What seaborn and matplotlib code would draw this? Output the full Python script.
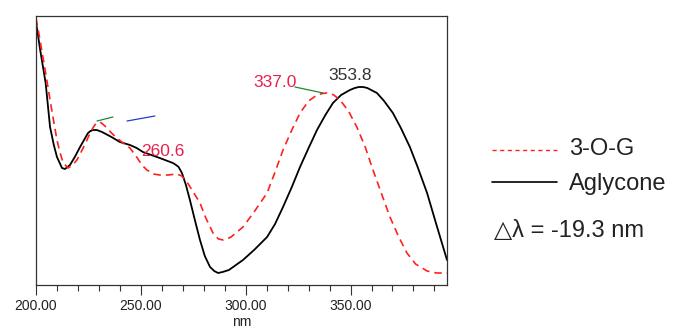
import numpy as np
import pandas as pd
import matplotlib
matplotlib.use("Agg")
import matplotlib.pyplot as plt
from matplotlib.lines import Line2D
from matplotlib.ticker import MultipleLocator, FormatStrFormatter
import seaborn as sns

# Aglycone spectrum (wavelength nm, absorbance a.u.)
agl_wl = [200.0, 202.0, 204.6, 206.7, 208.5, 210.0, 212.4, 213.8, 216.2, 218.5, 221.0, 224.8,
          226.0, 227.2, 229.0, 231.5, 236.0, 240.0, 244.8, 248.0, 251.0, 255.0, 259.0, 265.3,
          266.8, 268.0, 269.6, 271.5, 273.4, 276.0, 278.2, 280.5, 283.0, 285.0, 286.8, 289.0,
          292.0, 298.7, 304.0, 310.2, 314.0, 317.8, 322.0, 325.9, 330.0, 334.0, 338.0, 341.6,
          345.5, 349.7, 352.0, 354.0, 356.0, 358.0, 362.6, 366.0, 370.2, 374.0, 378.3, 382.0,
          386.5, 391.0, 396.0]
agl_abs = [2.63, 2.35, 2.02, 1.58, 1.40, 1.28, 1.17, 1.16, 1.20, 1.28, 1.38, 1.52,
           1.54, 1.55, 1.55, 1.53, 1.48, 1.43, 1.40, 1.37, 1.33, 1.30, 1.27, 1.22,
           1.20, 1.18, 1.12, 1.00, 0.85, 0.63, 0.45, 0.29, 0.18, 0.14, 0.12, 0.13,
           0.15, 0.25, 0.35, 0.48, 0.61, 0.78, 0.98, 1.18, 1.37, 1.55, 1.70, 1.82,
           1.90, 1.95, 1.97, 1.98, 1.98, 1.97, 1.92, 1.84, 1.72, 1.57, 1.38, 1.18,
           0.92, 0.60, 0.25]

# 3-O-G spectrum
gly_wl = [200.0, 201.5, 203.3, 205.0, 206.7, 208.5, 210.0, 211.5, 213.0, 215.3, 217.5, 219.5,
          222.0, 224.3, 226.0, 228.0, 229.3, 230.5, 231.8, 233.9, 236.0, 238.6, 241.5, 244.8,
          248.0, 250.5, 252.9, 256.0, 259.0, 263.0, 267.2, 269.5, 272.0, 275.0, 278.2, 281.0,
          284.4, 287.0, 288.2, 289.2, 290.5, 293.0, 298.7, 304.0, 310.2, 314.0, 317.8, 322.0,
          325.9, 330.0, 334.0, 336.5, 338.8, 340.5, 342.0, 345.0, 349.0, 353.0, 357.0, 360.7,
          365.0, 368.8, 373.0, 376.9, 381.0, 386.5, 391.0, 396.0]
gly_abs = [2.67, 2.50, 2.28, 2.07, 1.85, 1.63, 1.45, 1.32, 1.22, 1.17, 1.20, 1.25,
           1.35, 1.45, 1.53, 1.60, 1.625, 1.63, 1.61, 1.57, 1.52, 1.47, 1.42, 1.37,
           1.28, 1.20, 1.15, 1.11, 1.10, 1.10, 1.11, 1.09, 1.03, 0.93, 0.82, 0.67,
           0.52, 0.46, 0.455, 0.45, 0.455, 0.48, 0.58, 0.73, 0.92, 1.13, 1.35, 1.55,
           1.72, 1.84, 1.90, 1.915, 1.92, 1.915, 1.90, 1.85, 1.74, 1.58, 1.38, 1.15,
           0.90, 0.68, 0.48, 0.32, 0.21, 0.14, 0.12, 0.12]

series_names = ["3-O-G", "Aglycone"]
peak_labels = ["337.0", "353.8", "260.6"]
delta_text = "\u25b3\u03bb = -19.3 nm"

df = pd.concat([
    pd.DataFrame({"nm": gly_wl, "A": gly_abs, "s": series_names[0]}),
    pd.DataFrame({"nm": agl_wl, "A": agl_abs, "s": series_names[1]}),
])

sns.set_theme(style="white")
plt.rcParams["font.family"] = ["Liberation Sans", "DejaVu Sans"]

fig = plt.figure(figsize=(6.87, 3.35), dpi=100)
ax = fig.add_axes([36/687, 50/335, 411/687, 269/335])

sns.lineplot(data=df[df.s == "Aglycone"], x="nm", y="A", color="black", lw=1.3,
             ax=ax, sort=False, estimator=None)
sns.lineplot(data=df[df.s == "3-O-G"], x="nm", y="A", color="#ff2020", lw=1.2,
             ax=ax, sort=False, estimator=None, dashes=False)
ax.lines[-1].set_dashes([4.5, 3])

ax.set_xlim(200, 396)
ax.set_ylim(0, 2.69)
ax.set_yticks([])
ax.set_ylabel("")
ax.set_xlabel("nm", fontsize=10, color="#222222", labelpad=1.5)
ax.xaxis.set_major_locator(MultipleLocator(50))
ax.xaxis.set_minor_locator(MultipleLocator(10))
ax.xaxis.set_major_formatter(FormatStrFormatter("%.2f"))
ax.tick_params(axis="x", which="major", bottom=True, length=7, width=0.8, color="#333333",
               labelsize=10, labelcolor="#222222", pad=3)
ax.tick_params(axis="x", which="minor", bottom=True, length=4, width=0.8, color="#333333")
for sp in ax.spines.values():
    sp.set_color("#333333")
    sp.set_linewidth(0.9)
if ax.get_legend():
    ax.get_legend().remove()

# annotations
ax.text(349.7, 2.10, peak_labels[1], color="#333333", fontsize=12.5, ha="center", va="center")
ax.text(314.0, 2.02, peak_labels[0], color="#e8204f", fontsize=12.5, ha="center", va="center")
ax.text(260.6, 1.33, peak_labels[2], color="#e8204f", fontsize=12.5, ha="center", va="center")
ax.plot([323.5, 336.9], [1.98, 1.92], color="#1a8a3a", lw=0.9)
ax.plot([243.4, 256.7], [1.64, 1.69], color="#2040c0", lw=0.9)
ax.plot([229.1, 236.7], [1.64, 1.68], color="#1a8a3a", lw=0.9)

# legend
fig.add_artist(Line2D([492/687, 557/687], [1-150/335, 1-150/335], color="#ff2020", lw=1.0,
                      dashes=[3, 2.5], transform=fig.transFigure))
fig.add_artist(Line2D([492/687, 557/687], [1-182/335, 1-182/335], color="black", lw=1.2,
                      transform=fig.transFigure))
fig.text(569/687, 1-155/335, series_names[0], fontsize=17, color="#222222", va="baseline", ha="left")
fig.text(569/687, 1-190/335, series_names[1], fontsize=17, color="#222222", va="baseline", ha="left")
fig.text(494/687, 1-237/335, delta_text, fontsize=17, color="#222222", va="baseline", ha="left")

fig.savefig("out.png", dpi=100)
